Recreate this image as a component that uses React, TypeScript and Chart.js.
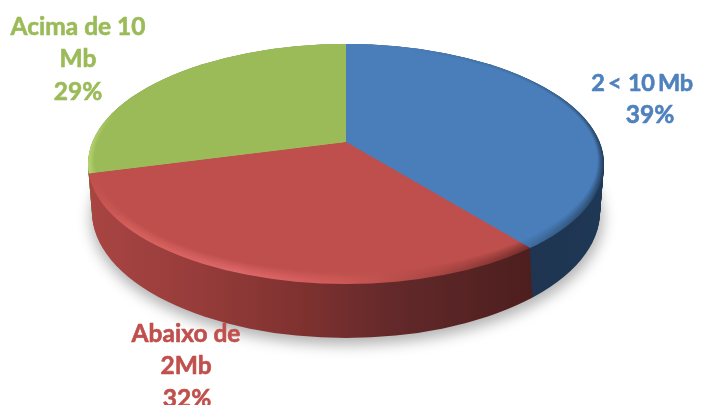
import React, { useEffect, useRef } from "react";
import { Chart, registerables } from "chart.js";

Chart.register(...registerables);

const categories = ["2 <  10 Mb", "Abaixo de 2Mb", "Acima de 10 Mb"];
const values = [39, 32, 29];
const labelLines = [["2 <  10 Mb"], ["Abaixo de", "2Mb"], ["Acima de 10", "Mb"]];
const faceColors = ["#4a7ebb", "#be4f4c", "#9bbb59"];
const labelColors = ["#4f81bd", "#c0504d", "#9bbb59"];
const labelAnchors = [
  [642, 83, 650],
  [186, 334, 187],
  [78, 27, 78],
];
const labelFontSize = [23.5, 24.5, 24.5];
const labelWordSpacing = ["-2px", "0px", "0px"];
const labelLetterSpacing = ["-0.3px", "0px", "0px"];

// horizontal shading of the wall: [x, colour]
const wallStops: [number, string][][] = [
  [[520, "#1f3450"], [610, "#1e3855"]],
  [[88, "#a94543"], [200, "#963c3a"], [300, "#7f3230"], [400, "#62282a"], [535, "#4c1e1d"]],
  [[88, "#7d9649"], [350, "#6d8340"]],
];
const rimStops: [number, string][][] = [
  [[400, "#4a7ebb"], [530, "#3d6c9f"], [585, "#2f5278"], [606, "#233c5a"]],
  [[88, "#bf4f4c"], [130, "#d5605c"], [240, "#e0686a"], [340, "#cf5a57"], [440, "#a84542"], [535, "#6e2b29"]],
  [[86, "#b9d873"], [115, "#9bbb59"], [350, "#9bbb59"]],
];

const CX = 346;
const APEX_Y = 142;
const TOP = { cy: 164, rx: 258, ry: 120 };
const WALL = { dy: 48, drx: -4, dry: 6 };
const SX_SY = 2.1;
const SY = 1.25;
const RIM = 13;

function mix(a: string, b: string, t: number) {
  const p = (h: string, i: number) => parseInt(h.slice(i, i + 2), 16);
  const c = [1, 3, 5].map((i) => Math.round(p(a, i) * (1 - t) + p(b, i) * t));
  return `rgb(${c[0]},${c[1]},${c[2]})`;
}

const pie3d = {
  id: "pie3d",
  beforeDatasetsDraw(chart: any) {
    const ctx: CanvasRenderingContext2D = chart.ctx;
    const arcs = chart.getDatasetMeta(0).data;
    const ox = arcs[0].x;
    const oy = arcs[0].y;
    const sy = SY;
    const sx = SY * SX_SY;

    const paint = (
      e: { cy: number; rx: number; ry: number },
      apexY: number,
      fill: (i: number) => any
    ) => {
      ctx.save();
      ctx.beginPath();
      ctx.ellipse(CX, e.cy, e.rx, e.ry, 0, 0, Math.PI * 2);
      ctx.clip();
      ctx.translate(CX, apexY);
      ctx.scale(sx, sy);
      ctx.translate(-ox, -oy);
      arcs.forEach((el: any, i: number) => {
        const saved = el.options;
        el.options = { ...saved, backgroundColor: fill(i) };
        el.draw(ctx);
        el.options = saved;
      });
      ctx.restore();
    };

    const grad = (stops: [number, string][], map: (c: string) => string) => {
      const x0 = ox + (stops[0][0] - CX) / sx;
      const x1 = ox + (stops[stops.length - 1][0] - CX) / sx;
      const g = ctx.createLinearGradient(x0, 0, x1, 0);
      const span = stops[stops.length - 1][0] - stops[0][0];
      stops.forEach(([x, c]) => g.addColorStop((x - stops[0][0]) / span, map(c)));
      return g;
    };

    // soft ground shadow
    ctx.save();
    ctx.filter = "blur(7px)";
    ctx.fillStyle = "rgba(0,0,0,0.30)";
    ctx.beginPath();
    ctx.ellipse(CX + 1, TOP.cy + WALL.dy + 6, TOP.rx - 2, TOP.ry + WALL.dry + 1, 0, 0, Math.PI * 2);
    ctx.fill();
    ctx.restore();

    // wall, back to front
    const wallFills = wallStops.map((s) => grad(s, (c) => c));
    for (let d = WALL.dy; d >= 0; d--) {
      const t = d / WALL.dy;
      paint(
        { cy: TOP.cy + d, rx: TOP.rx + WALL.drx * t, ry: TOP.ry + WALL.dry * t },
        APEX_Y + d,
        (i) => wallFills[i]
      );
    }

    // bevel rim then face
    for (let k = 0; k <= RIM; k++) {
      const t = k / RIM;
      const fills = rimStops.map((s, i) => grad(s, (c) => mix(c, faceColors[i], Math.pow(t, 1.2))));
      paint(
        { cy: TOP.cy - k * 0.3, rx: TOP.rx - k * 0.5, ry: TOP.ry - k * 0.6 },
        APEX_Y,
        (i) => fills[i]
      );
    }
    return false;
  },
  afterDraw(chart: any) {
    const ctx: any = chart.ctx;
    const total = values.reduce((a, b) => a + b, 0);
    ctx.save();
    ctx.textAlign = "center";
    ctx.textBaseline = "middle";
    ctx.lineWidth = 0.6;
    ctx.lineJoin = "round";
    const put = (s: string, x: number, y: number) => {
      ctx.fillText(s, x, y);
      ctx.strokeText(s, x, y);
    };
    labelLines.forEach((lines, i) => {
      const [x, y, px] = labelAnchors[i];
      ctx.font = `bold ${labelFontSize[i]}px Lato, "Open Sans", sans-serif`;
      ctx.fillStyle = labelColors[i];
      ctx.strokeStyle = labelColors[i];
      ctx.wordSpacing = labelWordSpacing[i];
      ctx.letterSpacing = labelLetterSpacing[i];
      lines.forEach((line, j) => put(line, x, y + j * 32.5));
      ctx.letterSpacing = "0px";
      ctx.font = 'bold 24.5px Lato, "Open Sans", sans-serif';
      put(`${Math.round((values[i] / total) * 100)}%`, px, y + lines.length * 32.5);
    });
    ctx.restore();
  },
};

export default function App() {
  const ref = useRef<HTMLCanvasElement>(null);
  useEffect(() => {
    const chart = new Chart(ref.current!, {
      type: "pie",
      data: {
        labels: categories,
        datasets: [{ data: values, backgroundColor: faceColors, borderWidth: 0 }],
      },
      options: {
        responsive: false,
        animation: false,
        plugins: { legend: { display: false }, tooltip: { enabled: false } },
      },
      plugins: [pie3d],
    });
    return () => chart.destroy();
  }, []);
  return (
    <canvas
      ref={ref}
      width={710}
      height={405}
      style={{ position: "fixed", left: 0, top: 0, display: "block", filter: "blur(0.5px)" }}
    />
  );
}
